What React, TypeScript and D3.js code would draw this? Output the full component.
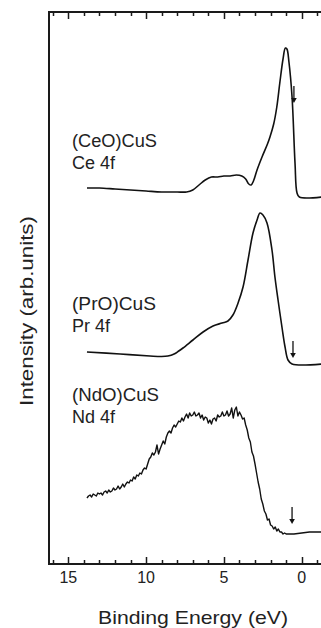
import * as d3 from 'd3';

// Binding energy (eV) and intensity (arb. units, offsets included)
const ceEnergy = [13.8, 13.0, 12.0, 11.0, 10.0, 9.0, 8.0, 7.4, 7.0, 6.6, 6.2, 5.8, 5.4, 5.0, 4.6, 4.2, 3.85, 3.6, 3.4, 3.25, 3.1, 2.87, 2.55, 2.2, 2.04, 1.8, 1.6, 1.4, 1.2, 1.05, 0.95, 0.82, 0.62, 0.43, 0.3, 0.15, -1.3];
const ceIntensity = [37.6, 37.6, 37.5, 37.4, 37.3, 37.2, 37.2, 37.2, 37.4, 37.9, 38.4, 38.7, 38.7, 38.8, 38.8, 38.9, 38.8, 38.5, 38.0, 37.9, 38.3, 39.4, 40.7, 42.0, 42.7, 44.0, 45.7, 48.2, 50.5, 51.6, 51.5, 50.2, 46.7, 40.1, 37.1, 36.7, 36.7];

const prEnergy = [13.8, 11.67, 9.75, 9.0, 8.6, 8.2, 7.9, 7.63, 6.99, 6.34, 5.7, 5.12, 4.74, 4.42, 4.09, 3.77, 3.45, 3.13, 2.87, 2.68, 2.49, 2.23, 1.91, 1.72, 1.52, 1.27, 1.07, 0.88, 0.62, -1.3];
const prIntensity = [21.2, 21.0, 20.8, 20.75, 20.8, 21.0, 21.3, 21.6, 22.4, 23.2, 23.8, 24.1, 24.3, 24.9, 26.1, 27.7, 30.4, 33.1, 34.4, 35.1, 34.9, 34.1, 31.4, 28.7, 26.4, 23.7, 21.7, 20.4, 20.0, 20.0];

const ndEnergy = [
  13.8, 13.7, 13.6, 13.5, 13.4, 13.3, 13.2, 13.1, 13.0,
  12.9, 12.8, 12.7, 12.6, 12.5, 12.4, 12.3, 12.2, 12.1, 12.0,
  11.9, 11.8, 11.7, 11.6, 11.5, 11.4, 11.3, 11.2, 11.1, 11.0,
  10.9, 10.8, 10.7, 10.6, 10.5, 10.4, 10.3, 10.2, 10.1, 10.0,
  9.9, 9.8, 9.7, 9.6, 9.5, 9.4, 9.3, 9.2, 9.1, 9.0,
  8.9, 8.8, 8.7, 8.6, 8.5, 8.4, 8.3, 8.2, 8.1, 8.0,
  7.9, 7.8, 7.7, 7.6, 7.5, 7.4, 7.3, 7.2, 7.1, 7.0,
  6.9, 6.8, 6.7, 6.6, 6.5, 6.4, 6.3, 6.2, 6.1, 6.0,
  5.9, 5.8, 5.7, 5.6, 5.5, 5.4, 5.3, 5.2, 5.1, 5.0,
  4.9, 4.8, 4.7, 4.6, 4.5, 4.4, 4.3, 4.2, 4.1, 4.0,
  3.9, 3.8, 3.7, 3.6, 3.5, 3.4, 3.3, 3.2, 3.1, 3.0,
  2.9, 2.8, 2.7, 2.6, 2.5, 2.4, 2.3, 2.2, 2.1, 2.0,
  1.9, 1.8, 1.7, 1.6, 1.5, 1.4, 1.3, 1.2, 1.1, 1.0,
  0.5, 0.0, -0.5, -1.3,
];
const ndIntensity = [
  6.6, 6.8, 6.9, 6.7, 7.0, 6.9, 6.8, 7.1, 7.0,
  7.1, 6.9, 7.2, 7.3, 7.1, 7.4, 7.2, 7.3, 7.6, 7.4,
  7.5, 7.8, 7.5, 7.7, 8.0, 7.7, 8.0, 8.2, 8.1, 8.4,
  8.3, 8.7, 8.5, 8.9, 8.8, 9.1, 9.0, 9.4, 9.6, 9.5,
  10.0, 10.5, 10.7, 11.1, 10.9, 11.2, 11.9, 11.0, 11.5, 11.9,
  12.3, 12.0, 12.7, 13.1, 13.3, 13.1, 13.6, 13.9, 13.7, 14.0,
  14.3, 14.2, 14.6, 14.3, 14.7, 15.0, 14.6, 15.1, 14.8, 14.9,
  15.2, 14.8, 14.9, 15.1, 14.6, 14.9, 14.4, 14.7, 14.6, 14.1,
  14.4, 14.0, 14.5, 14.6, 14.3, 14.9, 14.7, 14.8, 15.2, 14.8,
  14.9, 15.3, 14.8, 15.0, 15.6, 14.6, 15.4, 15.7, 14.8, 15.2,
  14.9, 14.5, 14.6, 13.9, 13.4, 12.6, 12.2, 11.2, 10.8, 10.0,
  9.1, 8.2, 7.5, 6.5, 6.0, 5.3, 5.0, 4.4, 4.5, 3.9,
  3.8, 3.5, 3.7, 3.3, 3.5, 3.2, 3.2, 3.0, 3.1, 3.0,
  3.0, 3.1, 3.2, 3.2,
];

const labels = [
  { lines: ['(CeO)CuS', 'Ce 4f'], baseline: 41.7 },
  { lines: ['(PrO)CuS', 'Pr 4f'], baseline: 25.4 },
  { lines: ['(NdO)CuS', 'Nd 4f'], baseline: 16.3 },
];
const labelWidths = [85, 84, 87];

// Fermi level markers: energy, top and bottom intensity
const arrowEnergy = [0.5, 0.56, 0.62];
const arrowTop = [47.8, 22.3, 5.7];
const arrowBottom = [46.1, 20.6, 4.0];

const tickValues = d3.range(16, -2, -1);
const majorTicks = [15, 10, 5, 0];

const width = 321;
const height = 628;
const marginLeft = 49;
const marginTop = 12;
const axisBottom = 564;

const font = '"Liberation Sans", Arial, Helvetica, sans-serif';

export default function App() {
  const x = d3.scaleLinear().domain([15, 0]).range([68.3, 301.7]);
  const y = d3.scaleLinear().domain([0, 55.2]).range([axisBottom, marginTop]);

  const smooth = d3
    .line<[number, number]>()
    .x((d) => x(d[0]))
    .y((d) => y(d[1]))
    .curve(d3.curveCatmullRom.alpha(0.5));
  const rough = d3
    .line<[number, number]>()
    .x((d) => x(d[0]))
    .y((d) => y(d[1]));

  const ce = ceEnergy.map((e, i) => [e, ceIntensity[i]] as [number, number]);
  const pr = prEnergy.map((e, i) => [e, prIntensity[i]] as [number, number]);
  const nd = ndEnergy.map((e, i) => [e, ndIntensity[i]] as [number, number]);

  const axisColor = '#1a1a1a';
  const textColor = '#222';

  return (
    <svg width={width} height={height} style={{ position: 'absolute', left: 0, top: 0 }} fontFamily={font}>
      {/* frame: left, top, bottom */}
      <g stroke={axisColor} strokeWidth={2}>
        <line x1={marginLeft} x2={marginLeft} y1={marginTop - 1} y2={axisBottom + 1} />
        <line x1={marginLeft - 1} x2={width} y1={marginTop} y2={marginTop} />
        <line x1={marginLeft - 1} x2={width} y1={axisBottom} y2={axisBottom} />
      </g>
      <g stroke={axisColor} strokeWidth={1.5}>
        {tickValues.map((t) => {
          const len = majorTicks.includes(t) ? 7 : 4;
          const tx = Math.round(x(t)) + 0.5;
          return (
            <g key={t}>
              <line x1={tx} x2={tx} y1={axisBottom} y2={axisBottom - len} />
              <line x1={tx} x2={tx} y1={marginTop} y2={marginTop + len} />
            </g>
          );
        })}
      </g>
      {majorTicks.map((t) => (
        <text key={t} x={x(t)} y={583} textAnchor="middle" fontSize={16} fill={textColor}>
          {t}
        </text>
      ))}

      <text
        x={193}
        y={624}
        textAnchor="middle"
        fontSize={19}
        fill={textColor}
        textLength={190}
        lengthAdjust="spacingAndGlyphs"
      >
        Binding Energy (eV)
      </text>
      <text
        transform="translate(33,311) rotate(-90)"
        textAnchor="middle"
        fontSize={19}
        fill={textColor}
        textLength={190}
        lengthAdjust="spacingAndGlyphs"
      >
        Intensity (arb.units)
      </text>

      {/* spectra */}
      <g fill="none" stroke="#111" strokeWidth={1.6} strokeLinejoin="round">
        <path d={smooth(ce) ?? ''} />
        <path d={smooth(pr) ?? ''} />
        <path d={rough(nd) ?? ''} strokeWidth={1.4} />
      </g>

      {/* Fermi level arrows */}
      {arrowEnergy.map((e, i) => {
        const ax = x(e);
        const y0 = y(arrowTop[i]);
        const y1 = y(arrowBottom[i]);
        return (
          <g key={i}>
            <line x1={ax} x2={ax} y1={y0} y2={y1 - 3} stroke="#111" strokeWidth={1.3} />
            <path d={`M${ax - 2.8},${y1 - 5}L${ax + 2.8},${y1 - 5}L${ax},${y1}Z`} fill="#111" />
          </g>
        );
      })}

      {/* sample labels */}
      {labels.map((l, i) => (
        <g key={i} fontSize={18} fill={textColor}>
          <text x={72} y={y(l.baseline)} textLength={labelWidths[i]} lengthAdjust="spacingAndGlyphs">
            {l.lines[0]}
          </text>
          <text x={72} y={y(l.baseline) + 21.5}>
            {l.lines[1]}
          </text>
        </g>
      ))}
    </svg>
  );
}
